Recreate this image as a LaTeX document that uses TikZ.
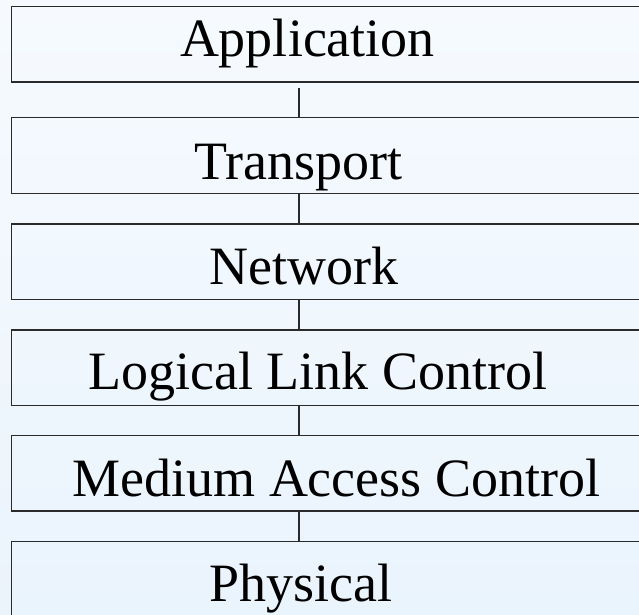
\documentclass[tikz,border=0pt]{standalone}
\usepackage{fontspec}
\setmainfont{Liberation Serif}
\definecolor{bgtop}{HTML}{F6FAFE}
\definecolor{bgbot}{HTML}{EAF4FD}
\definecolor{edge}{HTML}{2A2A2A}
\begin{document}
\begin{tikzpicture}[x=1pt,y=-1pt,
  layer/.style={draw=edge, line width=1.2pt, rectangle, minimum width=680pt,
    minimum height=75.3pt, inner sep=0pt, outer sep=0pt, anchor=north west},
  lbl/.style={anchor=base west, inner sep=0pt, outer sep=0pt,
    font=\fontsize{54}{60}\selectfont},
  conn/.style={draw=edge, line width=1.2pt}]
\useasboundingbox (0,0) rectangle (639,614);
\clip (0,0) rectangle (639,614);
\shade[top color=bgtop, bottom color=bgbot] (0,0) rectangle (639,614);
% layer boxes
\node[layer] (app) at (11.7,6.7) {};
\node[layer] (tr)  at (11.7,117.8) {};
\node[layer] (net) at (11.7,224) {};
\node[layer] (llc) at (11.7,330) {};
\node[layer] (mac) at (11.7,435.7) {};
\node[layer] (phy) at (11.7,541.7) {};
% labels
\node[lbl] (tapp) at (180,56.7) {Application};
\node[lbl] (ttr)  at (194,179.3) {Transport};
\node[lbl] (tnet) at (209.3,284.3) {Network};
\node[lbl] (tllc) at (88.3,389.3) {Logical Link Control};
\node[lbl] (tmac) at (72.5,496.7) {Medium Access Control};
\node[lbl] (tphy) at (209.3,601.7) {Physical};
% connectors
\coordinate (c1) at (299,88);
\draw[conn] (c1) -- (c1 |- tr.north);
\draw[conn] (tr.south -| c1) -- (net.north -| c1);
\draw[conn] (net.south -| c1) -- (llc.north -| c1);
\draw[conn] (llc.south -| c1) -- (mac.north -| c1);
\draw[conn] (mac.south -| c1) -- (phy.north -| c1);
\end{tikzpicture}
\end{document}
